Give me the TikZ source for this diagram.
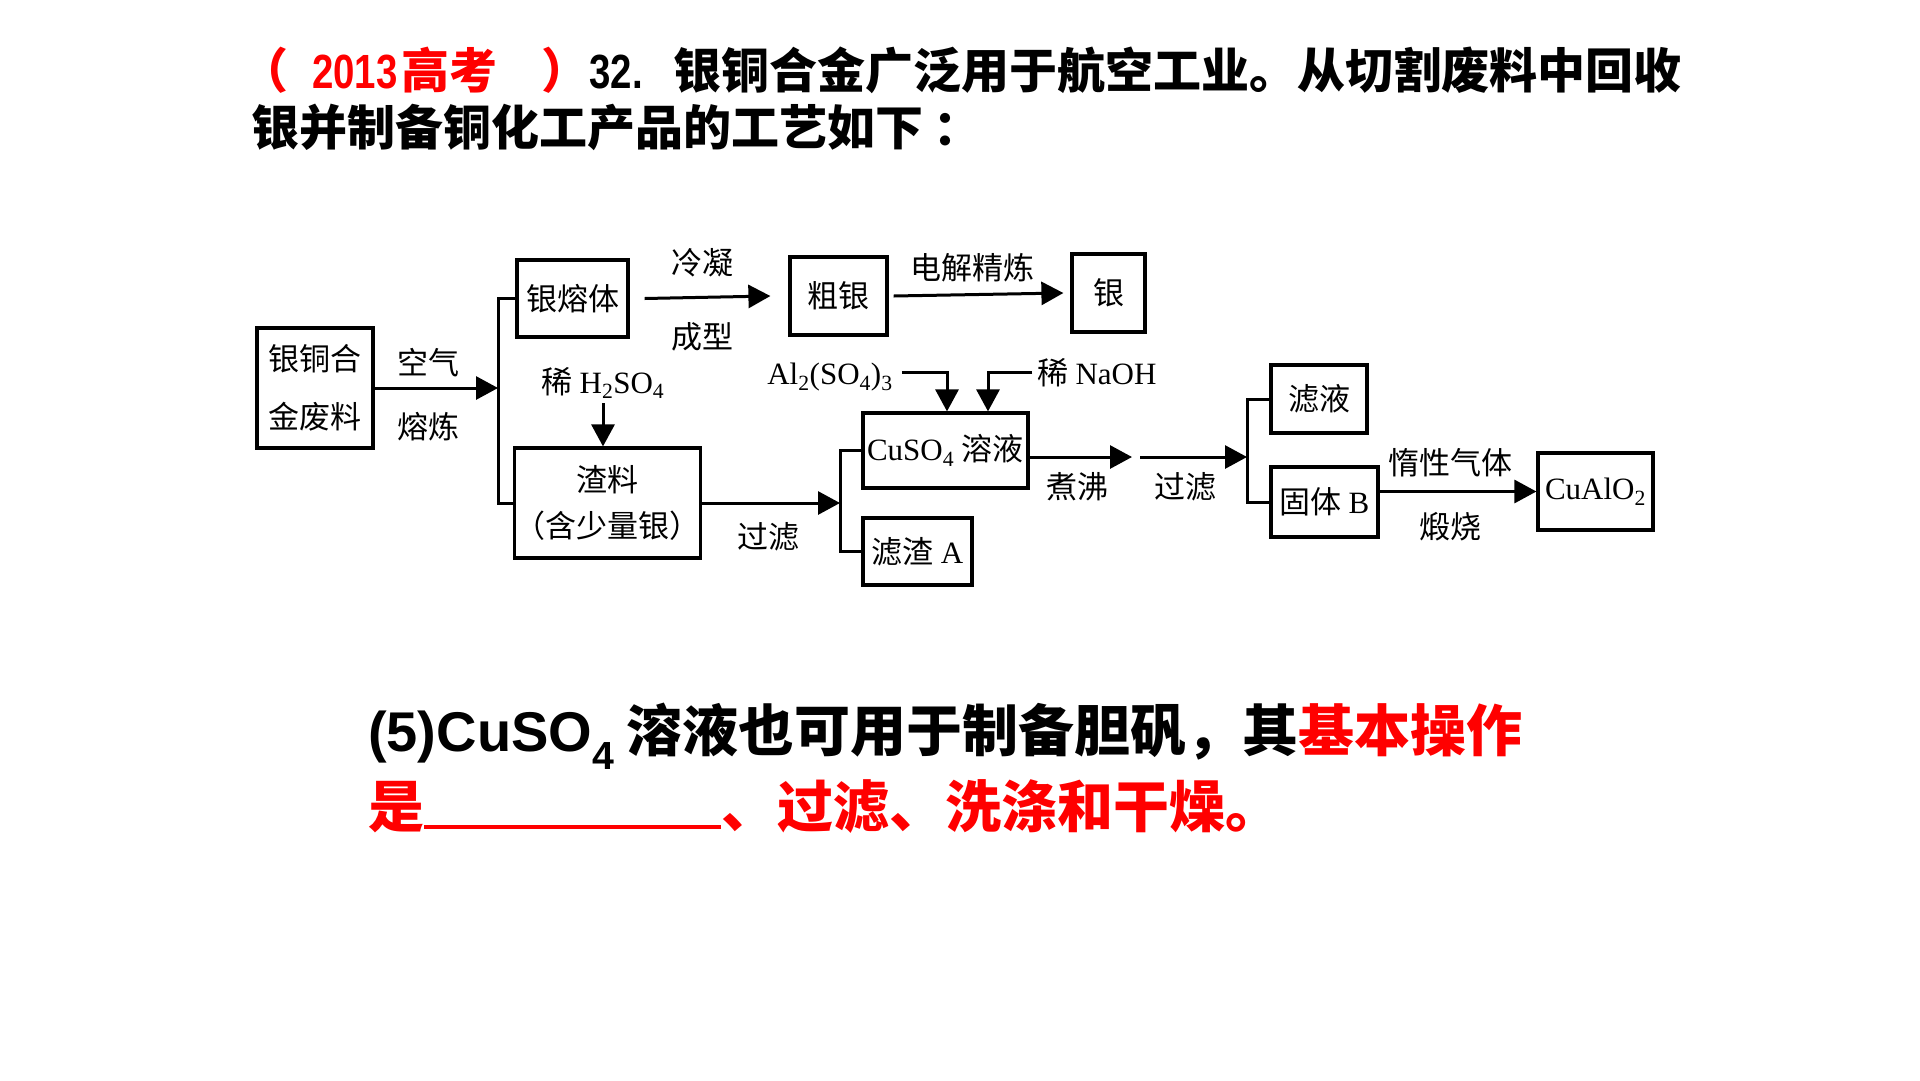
\documentclass[tikz,border=0pt]{standalone}
\usepackage{fontspec}
\setmainfont{Liberation Serif}
\newfontfamily\cjk{Noto Sans CJK SC}
\newfontfamily\lsans{Liberation Sans}
\newfontfamily\lsansn{Liberation Sans}[FakeStretch=0.8]
\usetikzlibrary{arrows.meta}
\newcommand\flowsz{\fontsize{31}{37}\selectfont}
\begin{document}
\begin{tikzpicture}[x=1pt,y=-1pt,
  box/.style={draw, line width=3.2pt, inner sep=0pt, align=center, font=\flowsz\cjk},
  lbl/.style={inner sep=0pt, font=\flowsz\cjk},
  conn/.style={line width=3pt},
  arr/.style={line width=3pt, -{Triangle[length=22pt,width=23pt]}},
  title/.style={inner sep=0pt, anchor=base west, font=\fontsize{48}{58}\selectfont\cjk\bfseries},
  qtext/.style={inner sep=0pt, anchor=base west, font=\fontsize{56}{66}\selectfont\cjk\bfseries}]
\useasboundingbox (0,0) rectangle (1920,1080);
\fill[white] (0,0) rectangle (1920,1080);

% title
\node[title] (t1) at (240,88) {{\color{red}（\hspace{24pt}\lsansn 2013\hspace{4pt}\cjk 高考\hspace{44pt}）}\lsansn 32.\hspace{30pt}\cjk 银铜合金广泛用于航空工业。从切割废料中回收};
\node[title] (t2) at (251,145) {银并制备铜化工产品的工艺如下\hspace{10pt}：};

% boxes
\node[box, minimum width=116pt, minimum height=120pt, font=\fontsize{31}{58}\selectfont\cjk] (A) at (315,388) {银铜合\\金废料};
\node[box, minimum width=111pt, minimum height=77pt] (B) at (572.5,298.5) {银熔体};
\node[box, minimum width=179pt, minimum height=110pt, font=\fontsize{31}{46}\selectfont\cjk] (C) at (607.5,503) {渣料\\（含少量银）};
\node[box, minimum width=97pt, minimum height=78pt] (D) at (838.5,296) {粗银};
\node[box, minimum width=73pt, minimum height=78pt] (E) at (1108.5,293) {银};
\node[box, minimum width=165pt, minimum height=75pt] (F) at (945.5,450.5) {\rmfamily CuSO\textsubscript{4} \cjk 溶液};
\node[box, minimum width=109pt, minimum height=67pt] (G) at (917.5,551.5) {滤渣 \rmfamily A};
\node[box, minimum width=96pt, minimum height=68pt] (H) at (1319,399) {滤液};
\node[box, minimum width=107pt, minimum height=70pt] (I) at (1324.5,502) {固体 \rmfamily B};
\node[box, minimum width=115pt, minimum height=77pt] (J) at (1595.5,491.5) {\rmfamily CuAlO\textsubscript{2}};

% labels
\node[lbl] (l1) at (428,363) {空气};
\node[lbl] (l2) at (428,427) {熔炼};
\node[lbl] (l3) at (702,263) {冷凝};
\node[lbl] (l4) at (702,337) {成型};
\node[lbl] (l5) at (972,268) {电解精炼};
\node[lbl] (h2) at (603,383) {稀 \rmfamily H\textsubscript{2}SO\textsubscript{4}};
\node[lbl] (l6) at (768,537) {过滤};
\node[lbl] (al) at (830,377) {\rmfamily Al\textsubscript{2}(SO\textsubscript{4})\textsubscript{3}};
\node[lbl] (na) at (1097,373) {稀 \rmfamily NaOH};
\node[lbl] (l7) at (1077,487) {煮沸};
\node[lbl] (l8) at (1185,487) {过滤};
\node[lbl] (l9) at (1450,463) {惰性气体};
\node[lbl] (l10) at (1450,527) {煅烧};

% junction coordinates
\coordinate (j1) at (498,388);
\coordinate (j2) at (840,503);
\coordinate (m1) at (1132,457);
\coordinate (m2) at (1140,457);
\coordinate (j3) at (1247,457);

% connectors
\draw[arr] (A.east) -- (j1);
\draw[conn] (B.west) -| (j1) |- (C.west);
\draw[arr] ([xshift=15pt]B.east) -- ([xshift=-18pt]D.west);
\draw[arr] ([xshift=5pt]D.east) -- ([xshift=-7pt]E.west);
\draw[arr] ([yshift=-4pt]h2.south) -- (h2.south |- C.north);
\draw[arr] (C.east) -- (j2);
\draw[conn] (F.west) -| (j2) |- (G.west);
\draw[arr] ([xshift=9pt,yshift=5pt]al.east) -| ([xshift=1.5pt]F.north);
\draw[arr] ([xshift=-5pt,yshift=1pt]na.west) -| ([xshift=42.5pt]F.north);
\draw[arr] (F.east |- m1) -- (m1);
\draw[arr] (m2) -- (j3);
\draw[conn] (H.west) -| (j3) |- (I.west);
\draw[arr] (I.east |- J.west) -- (J.west);

% question
\node[qtext] (q1) at (368,751) {{\lsans (5)CuSO\textsubscript{4}}\hspace{12pt}溶液也可用于制备胆矾，其{\color{red}基本操作}};
\node[qtext, text=red] (q2) at (368,827) {是\rule[-2pt]{297pt}{4pt}、过滤、洗涤和干燥。};
\end{tikzpicture}
\end{document}
